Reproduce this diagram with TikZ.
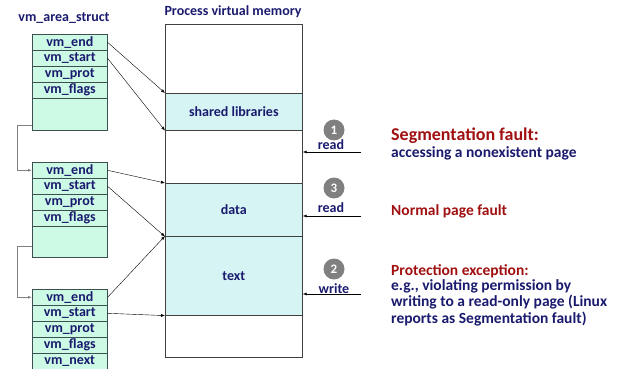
\documentclass[tikz,border=0pt]{standalone}
\usepackage{fontspec}
\setmainfont{Carlito}
\usetikzlibrary{arrows.meta,calc}
\definecolor{navy}{RGB}{26,26,110}
\definecolor{dred}{RGB}{160,16,16}
\definecolor{mint}{RGB}{204,250,228}
\definecolor{cyanb}{RGB}{214,244,244}
\definecolor{cellline}{RGB}{60,80,80}
\tikzset{
  cell/.style={draw=cellline, fill=mint, minimum width=75pt, minimum height=16pt, inner sep=0pt, anchor=north west, text=navy, font=\bfseries\fontsize{14}{15}\selectfont, line width=0.6pt},
  blank/.style={draw=cellline, fill=mint, minimum width=75pt, inner sep=0pt, anchor=north west, line width=0.6pt},
  memw/.style={draw=black!75, fill=white, minimum width=137pt, inner sep=0pt, anchor=north west, line width=0.6pt},
  memc/.style={draw=black!75, fill=cyanb, minimum width=137pt, inner sep=0pt, anchor=north west, text=navy, font=\bfseries\fontsize{14}{16}\selectfont, line width=0.6pt},
  ptr/.style={-{Latex[length=4pt,width=3pt]}, line width=0.4pt, black},
  lnk/.style={-{Latex[length=4pt,width=3pt]}, line width=0.9pt, black!50},
  acc/.style={{Latex[length=4pt,width=3pt]}-, line width=0.6pt, black},
  num/.style={circle, fill=black!50, text=white, inner sep=0pt, minimum size=21pt, font=\bfseries\fontsize{13}{15}\selectfont},
  lab/.style={text=navy, font=\bfseries\fontsize{14}{15}\selectfont, inner sep=0pt},
  ttl/.style={text=navy, font=\bfseries\fontsize{14}{16}\selectfont, inner sep=0pt},
  big/.style={text=dred, font=\bfseries\fontsize{18}{21}\selectfont, inner sep=0pt, anchor=west},
  redt/.style={text=dred, font=\bfseries\fontsize{15.5}{16.5}\selectfont, inner sep=0pt, anchor=west},
  bluet/.style={text=navy, font=\bfseries\fontsize{15.5}{16.5}\selectfont, inner sep=0pt, anchor=west, align=left},
}
\begin{document}
\begin{tikzpicture}[x=1pt,y=-1pt]
\useasboundingbox (0,0) rectangle (622,369);
% titles
\node[ttl] (t1) at (64,18) {vm\_area\_struct};
\node[ttl] (t2) at (233,12) {Process virtual memory};
% memory
\node[memw, minimum height=69pt] (m0) at (165,24) {};
\node[memc, minimum height=37pt] (shl) at (165,93) {shared libraries};
\node[memw, minimum height=53pt] (m1) at (165,130) {};
\node[memc, minimum height=53pt] (data) at (165,183) {data};
\node[memc, minimum height=79pt] (text) at (165,236) {text};
\node[memw, minimum height=42pt] (m3) at (165,315) {};
% struct 1
\node[cell] (a1) at (32,34) {vm\_end};
\node[cell] (a2) at (32,50) {vm\_start};
\node[cell] (a3) at (32,66) {vm\_prot};
\node[cell] (a4) at (32,82) {vm\_flags};
\node[blank, minimum height=32pt] (a5) at (32,98) {};
% struct 2
\node[cell] (b1) at (32,162) {vm\_end};
\node[cell] (b2) at (32,178) {vm\_start};
\node[cell] (b3) at (32,194) {vm\_prot};
\node[cell] (b4) at (32,210) {vm\_flags};
\node[blank, minimum height=31pt] (b5) at (32,226) {};
% struct 3
\node[cell] (c1) at (32,289) {vm\_end};
\node[cell] (c2) at (32,305) {vm\_start};
\node[cell] (c3) at (32,321) {vm\_prot};
\node[cell] (c4) at (32,337) {vm\_flags};
\node[cell, minimum height=15.5pt] (c5) at (32,353) {vm\_next};
% links
\draw[lnk] ([yshift=5pt]a5.south west) -- ++(-15,0) |- (b1.west);
\draw[lnk] ([yshift=11pt]b5.south west) -- ++(-15,0) |- (c1.west);
% pointers
\draw[ptr] (a1.east) -- (shl.north west);
\draw[ptr] (a2.east) -- (shl.south west);
\draw[ptr] (b1.east) -- (data.north west);
\draw[ptr] (b2.east) -- (data.south west);
\draw[ptr] (c1.east) -- (text.north west);
\draw[ptr] (c2.east) -- (text.south west);
% accesses
\coordinate (r1) at (361,152);
\coordinate (r3) at (361,216);
\coordinate (r2) at (361,294);
\draw[acc] (r1 -| m1.east) -- (r1);
\draw[acc] (r3 -| data.east) -- (r3);
\draw[acc] (r2 -| text.east) -- (r2);
\node[num] (n1) at (334,130) {1};
\node[num] (n3) at (334,188) {3};
\node[num] (n2) at (334,269) {2};
\node[lab] (l1) at (331,145) {read};
\node[lab] (l3) at (331,208) {read};
\node[lab] (l2) at (334,289) {write};
% descriptions
\node[big] (d1) at (391,136) {Segmentation fault:};
\node[bluet] (d1b) at (391,153) {accessing a nonexistent page};
\node[redt] (d3) at (391,211) {Normal page fault};
\node[redt] (d2) at (391,271) {Protection exception:};
\node[bluet, anchor=north west] (d2b) at (391,279) {e.g., violating permission by\\writing to a read-only page (Linux\\reports as Segmentation fault)};
\end{tikzpicture}
\end{document}
